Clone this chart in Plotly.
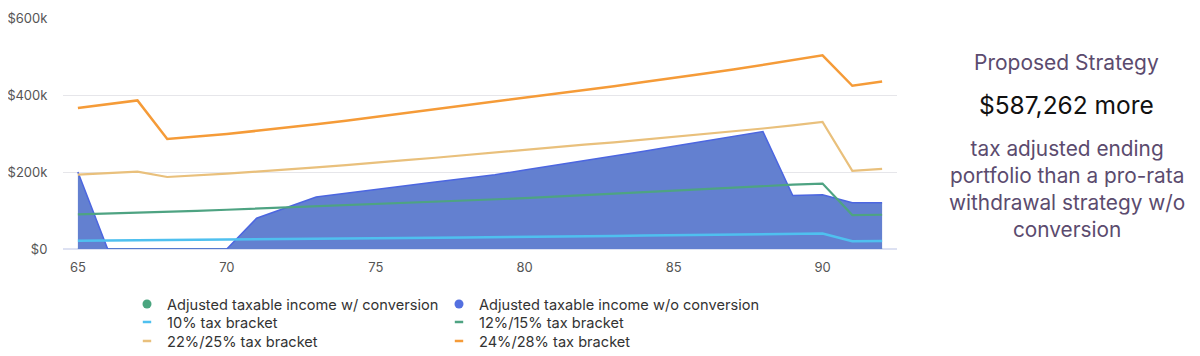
import plotly.graph_objects as go

# ---------------- data ----------------
ages = list(range(65, 93))

bracket_10 = [21.5, 22, 22.5, 23, 23.5, 24.5, 25, 25.5, 26, 27, 27.5, 28, 29, 30,
              30.5, 31, 32, 33, 34, 35, 35.5, 36, 37, 38, 39, 40, 20, 20.5]
bracket_12_15 = [90, 92, 94, 97, 99, 102, 105, 108, 110, 113, 116, 119, 122, 125,
                 128, 132, 136, 140, 144, 148, 152, 156, 160, 164, 167, 170, 88, 89]
bracket_22_25 = [193, 197, 201, 187, 191, 196, 201, 206, 212, 218, 225, 231, 237, 244,
                 251, 257, 264, 271, 277, 284, 291, 298, 305, 313, 321, 330, 203, 208]
bracket_24_28 = [366, 376, 386, 286, 292, 299, 307, 315, 324, 333, 343, 352, 362, 372,
                 383, 393, 403, 413, 423, 434, 444, 455, 466, 478, 490, 503, 424, 435]
income_wo_conversion = [200, 0, 0, 0, 0, 0, 80, 107, 135, 145, 154, 164, 174, 183,
                        193, 205, 217, 229, 241, 254, 267, 280, 292, 305, 139, 141, 120, 120]
income_w_conversion = [0] * len(ages)

y_tick_vals = [0, 200, 400, 600]
y_tick_text = ["$0", "$200k", "$400k", "$600k"]
x_tick_vals = [65, 70, 75, 80, 85, 90]

headline = "Proposed Strategy"
amount_text = "$587,262 more"
description = "tax adjusted ending<br>portfolio than a pro-rata<br>withdrawal strategy w/o<br>conversion"

# ---------------- styling ----------------
W, H = 1200, 356
OFF = 8  # the page's default body margin shifts the figure by this much
# plot area in page pixels (as seen in the screenshot)
PL, PR, PT, PB = 63, 897, 18, 249
FONT = "Inter"

C_10 = "#4fc0ef"
C_12 = "#4ea382"
C_22 = "#e9c07c"
C_24 = "#f59b38"
C_AREA_FILL = "#6380d0"
C_AREA_LINE = "#4c66e0"
C_GREEN_DOT = "#4aa57f"
C_BLUE_DOT = "#5470e0"
C_TEXT_PURPLE = "#5b4b6e"


def px_x(p):
    return (p - PL) / (PR - PL)


def px_y(p):
    return 1 - (p - PT) / (PB - PT)


fig = go.Figure()


def to_dollars(arr):
    return [v * 1000 for v in arr]


fig.add_trace(go.Scatter(
    x=ages, y=to_dollars(income_w_conversion), mode="lines",
    line=dict(color=C_GREEN_DOT, width=1.5), fill="tozeroy",
    fillcolor="rgba(74,165,127,0.6)", showlegend=False, hoverinfo="skip"))
fig.add_trace(go.Scatter(
    x=ages, y=to_dollars(income_wo_conversion), mode="lines",
    line=dict(color=C_AREA_LINE, width=1.5), fill="tozeroy",
    fillcolor=C_AREA_FILL, showlegend=False))
for vals, col, w in [(bracket_10, C_10, 2.5), (bracket_12_15, C_12, 2.2),
                     (bracket_22_25, C_22, 2.2), (bracket_24_28, C_24, 2.5)]:
    fig.add_trace(go.Scatter(x=ages, y=to_dollars(vals), mode="lines",
                             line=dict(color=col, width=w), showlegend=False))

# legend entries: one small legend per entry, laid out in a 2x3 grid
legend_entries = [
    ("Adjusted taxable income w/ conversion", C_GREEN_DOT, "dot"),
    ("Adjusted taxable income w/o conversion", C_BLUE_DOT, "dot"),
    ("10% tax bracket", C_10, "dash"),
    ("12%/15% tax bracket", C_12, "dash"),
    ("22%/25% tax bracket", C_22, "dash"),
    ("24%/28% tax bracket", C_24, "dash"),
]
col_text_x = [167, 479]
row_center_y = [303, 321, 340]

legend_layouts = {}
for i, (name, color, kind) in enumerate(legend_entries):
    lid = "legend" if i == 0 else f"legend{i + 1}"
    if kind == "dot":
        marker = dict(symbol="circle", size=9, color=color)
    else:
        marker = dict(symbol="line-ew", size=6, line=dict(color=color, width=2.5))
    fig.add_trace(go.Scatter(x=[None], y=[None], mode="markers", name=name,
                             legend=lid, marker=marker))
    col, row = i % 2, i // 2
    legend_layouts[lid] = dict(
        x=px_x(col_text_x[col] - 40), y=px_y(row_center_y[row] - 15),
        xanchor="left", yanchor="top", orientation="v",
        font=dict(family=FONT, size=14.6, color="#333333"),
        bgcolor="rgba(0,0,0,0)", borderwidth=0, itemclick=False)

fig.update_layout(
    width=W, height=H,
    margin=dict(l=PL - OFF, r=W - (PR - OFF), t=PT - OFF, b=H - (PB - OFF),
                autoexpand=False),
    paper_bgcolor="white", plot_bgcolor="white",
    font=dict(family=FONT, color="#555555"),
    xaxis=dict(range=[64.5, 92.5], tickvals=x_tick_vals, showgrid=False,
               zeroline=False, showline=False, ticks="outside", ticklen=6,
               tickcolor="rgba(0,0,0,0)",
               tickfont=dict(family=FONT, size=13, color="#555555")),
    yaxis=dict(range=[0, 600000], tickvals=[v * 1000 for v in y_tick_vals],
               ticktext=y_tick_text, showgrid=True, gridcolor="#e6e6ea",
               gridwidth=1, zeroline=True, zerolinecolor="#dde1f2",
               zerolinewidth=2, showline=False, ticks="outside", ticklen=12,
               tickcolor="rgba(0,0,0,0)",
               tickfont=dict(family=FONT, size=13, color="#555555")),
    annotations=[
        dict(text=headline, xref="paper", yref="paper", x=px_x(1066), y=px_y(63),
             xanchor="center", yanchor="middle", showarrow=False,
             font=dict(family=FONT, size=21, color=C_TEXT_PURPLE)),
        dict(text=amount_text, xref="paper", yref="paper", x=px_x(1066), y=px_y(105),
             xanchor="center", yanchor="middle", showarrow=False,
             font=dict(family=FONT, size=24.5, color="#111111")),
        dict(text=description, xref="paper", yref="paper", x=px_x(1067), y=px_y(188.5),
             xanchor="center", yanchor="middle", showarrow=False, align="center",
             font=dict(family=FONT, size=20.8, color=C_TEXT_PURPLE)),
    ],
    **legend_layouts,
)

fig.write_html("out.html")
